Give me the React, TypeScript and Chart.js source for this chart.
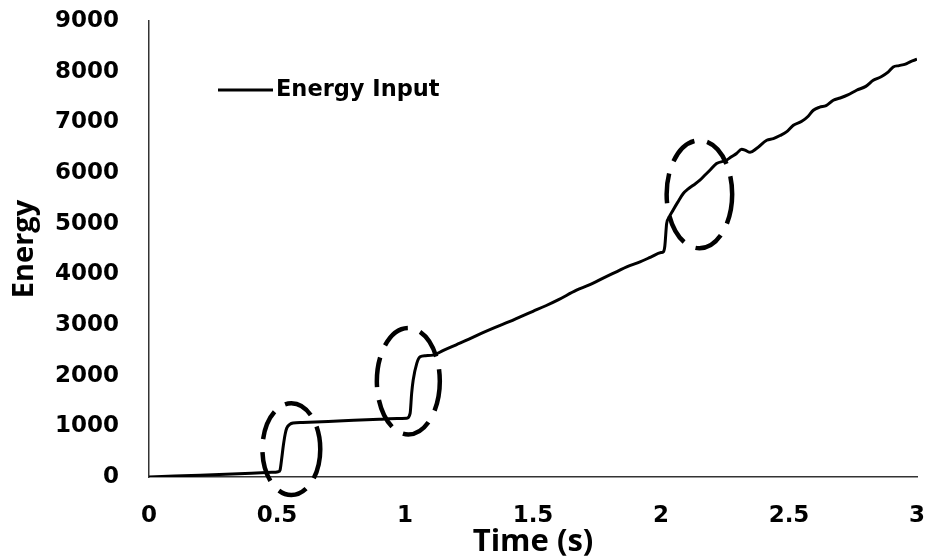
import { useEffect, useRef } from "react";
import { Chart, registerables } from "chart.js";

Chart.register(...registerables);

// ---- data ----
const timeSeconds = [
  0.0, 0.1, 0.2, 0.3, 0.4, 0.48, 0.505, 0.512, 0.518, 0.525, 0.532, 0.538, 0.55, 0.563,
  0.6, 0.7, 0.8, 0.9, 0.97, 1.007, 1.02, 1.026, 1.032, 1.046, 1.059, 1.08, 1.11,
  1.15, 1.2, 1.25, 1.3, 1.35, 1.41, 1.45, 1.5, 1.55, 1.6, 1.67, 1.72, 1.78, 1.83, 1.866,
  1.918, 1.96, 2.0, 2.009, 2.015, 2.022, 2.03, 2.047, 2.065, 2.087, 2.105, 2.126, 2.152,
  2.17, 2.191, 2.217, 2.256, 2.275, 2.295, 2.315, 2.33, 2.348, 2.373, 2.413, 2.439, 2.465,
  2.49, 2.517, 2.55, 2.575, 2.595, 2.62, 2.645, 2.673, 2.7, 2.73, 2.764, 2.8, 2.829, 2.86,
  2.887, 2.907, 2.93, 2.955, 2.975, 3.0,
];
const energyInput = [
  0, 18, 36, 55, 75, 92, 105, 140, 350, 630, 850, 965, 1040, 1065,
  1075, 1095, 1118, 1140, 1155, 1160, 1256, 1650, 1913, 2243, 2373, 2395, 2406,
  2500, 2610, 2720, 2840, 2950, 3070, 3160, 3270, 3380, 3500, 3688, 3790, 3940, 4060, 4148,
  4247, 4340, 4430, 4444, 4560, 5000, 5110, 5266, 5420, 5595, 5680, 5759, 5858,
  5950, 6055, 6187, 6252, 6320, 6384, 6470, 6445, 6410, 6483, 6647, 6680, 6740,
  6811, 6943, 7020, 7120, 7239, 7300, 7330, 7436, 7480, 7540, 7633, 7710, 7830, 7900,
  7990, 8093, 8120, 8150, 8200, 8245,
];
const seriesLabel = "Energy Input";
const xTitle = "Time (s)";
const yTitle = "Energy";
const xTickValues = [0, 0.5, 1, 1.5, 2, 2.5, 3];
const xTickLabels = ["0", "0.5", "1", "1.5", "2", "2.5", "3"];
const yTickValues = [0, 1000, 2000, 3000, 4000, 5000, 6000, 7000, 8000, 9000];
const yTickLabels = ["0", "1000", "2000", "3000", "4000", "5000", "6000", "7000", "8000", "9000"];

// highlighted regions (dashed ellipses), in data units
const highlightTime = [0.556, 1.013, 2.15];
const highlightEnergy = [550, 1890, 5580];
const highlightHalfTime = [0.113, 0.123, 0.128];
const highlightHalfEnergy = [907, 1050, 1065];

const TICK_FONT = "'DejaVu Sans', sans-serif";
const TITLE_FONT = "'Open Sans', sans-serif";

const overlayPlugin = {
  id: "overlay",
  afterDatasetsDraw(chart: any) {
    const { ctx, chartArea } = chart;
    const xs = chart.scales.x;
    const ys = chart.scales.y;
    ctx.save();
    // dashed ellipses
    ctx.strokeStyle = "#000";
    ctx.lineWidth = 4.5;
    ctx.setLineDash([30, 13]);
    for (let i = 0; i < highlightTime.length; i++) {
      const cx = xs.getPixelForValue(highlightTime[i]);
      const cy = ys.getPixelForValue(highlightEnergy[i]);
      const rx = Math.abs(xs.getPixelForValue(highlightTime[i] + highlightHalfTime[i]) - cx);
      const ry = Math.abs(ys.getPixelForValue(highlightEnergy[i] + highlightHalfEnergy[i]) - cy);
      ctx.beginPath();
      ctx.ellipse(cx, cy, rx, ry, 0, 0, Math.PI * 2);
      ctx.stroke();
    }
    // legend inside plot area
    ctx.setLineDash([]);
    ctx.lineWidth = 3;
    const lx = chartArea.left + 69;
    const ly = chartArea.top + 69;
    ctx.beginPath();
    ctx.moveTo(lx, ly);
    ctx.lineTo(lx + 55, ly);
    ctx.stroke();
    ctx.fillStyle = "#000";
    ctx.font = `bold 22.5px ${TICK_FONT}`;
    ctx.textBaseline = "middle";
    ctx.textAlign = "left";
    ctx.fillText(chart.data.datasets[0].label, lx + 58, ly);
    ctx.restore();
  },
};

export default function App() {
  const ref = useRef<HTMLCanvasElement>(null);
  useEffect(() => {
    document.body.style.margin = "0";
    const canvas = ref.current;
    if (!canvas) return;
    const chart = new Chart(canvas, {
      type: "line",
      data: {
        datasets: [
          {
            label: seriesLabel,
            data: timeSeconds.map((t, i) => ({ x: t, y: energyInput[i] })),
            borderColor: "#000",
            borderWidth: 3,
            pointRadius: 0,
            fill: false,
            cubicInterpolationMode: "monotone",
          },
        ],
      },
      options: {
        animation: false,
        responsive: false,
        devicePixelRatio: 1,
        layout: { padding: { top: 21, right: 11, left: 0, bottom: 0 } },
        plugins: { legend: { display: false }, tooltip: { enabled: false } },
        scales: {
          x: {
            type: "linear",
            min: 0,
            max: 3,
            grid: { display: false, drawTicks: false },
            border: { display: true, color: "#333", width: 1.5 },
            afterBuildTicks: (s: any) => {
              s.ticks = xTickValues.map((v) => ({ value: v }));
            },
            afterFit: (s: any) => {
              s.height = 81;
              s.paddingLeft = 0;
              s.paddingRight = 0;
            },
            ticks: {
              padding: 25,
              color: "#000",
              maxRotation: 0,
              autoSkip: false,
              font: { family: TICK_FONT, size: 23, weight: "bold" },
              callback: (v: any) => xTickLabels[xTickValues.indexOf(Number(v))] ?? String(v),
            },
            title: {
              display: true,
              text: xTitle,
              color: "#000",
              font: { family: TITLE_FONT, size: 31, weight: "bold", lineHeight: 1 },
              padding: { top: 0, bottom: 0 },
            },
          },
          y: {
            type: "linear",
            min: 0,
            max: 9000,
            grid: { display: false, drawTicks: false },
            border: { display: true, color: "#333", width: 1.5 },
            afterBuildTicks: (s: any) => {
              s.ticks = yTickValues.map((v) => ({ value: v }));
            },
            afterFit: (s: any) => {
              s.width = 149;
              s.paddingTop = 0;
              s.paddingBottom = 0;
            },
            ticks: {
              padding: 30,
              color: "#000",
              autoSkip: false,
              font: { family: TICK_FONT, size: 23, weight: "bold" },
              callback: (v: any) => yTickLabels[yTickValues.indexOf(Number(v))] ?? String(v),
            },
            title: {
              display: true,
              text: yTitle,
              color: "#000",
              font: { family: TITLE_FONT, size: 29, weight: "bold", lineHeight: 1 },
              padding: { top: 10, bottom: 0 },
            },
          },
        },
      },
      plugins: [overlayPlugin],
    } as any);
    return () => chart.destroy();
  }, []);
  return (
    <div style={{ width: 928, height: 558, position: "relative" }}>
      <canvas ref={ref} width={928} height={558} style={{ display: "block" }} />
    </div>
  );
}
